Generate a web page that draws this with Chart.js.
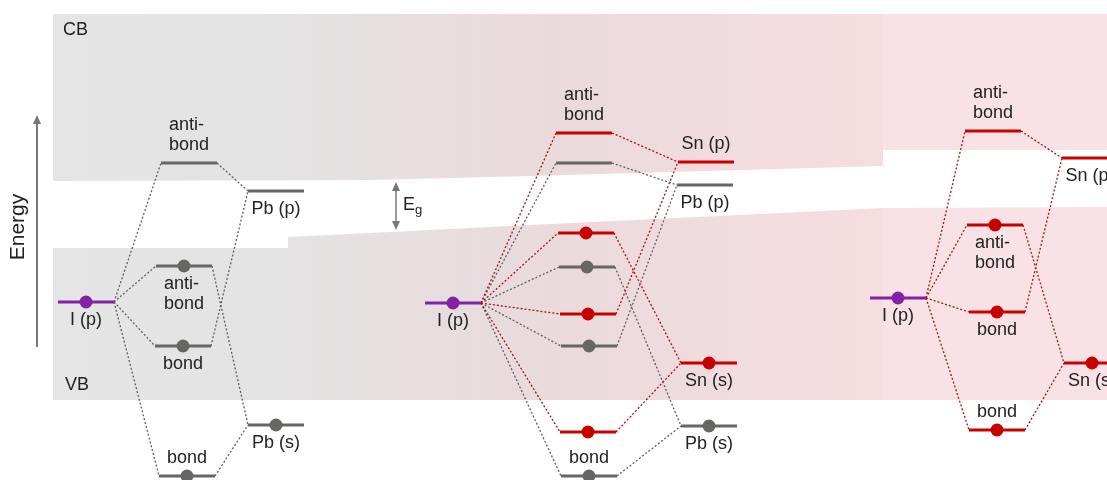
<!DOCTYPE html>
<html>
<head>
<meta charset="utf-8">
<script src="https://cdn.jsdelivr.net/npm/chart.js@4"></script>
<style>
  html, body { margin: 0; padding: 0; background: #fff; }
  #wrap { width: 1107px; height: 480px; position: relative; }
</style>
</head>
<body>
<div id="wrap"><canvas id="chart"></canvas></div>
<script>
// Energy levels (x = column, e = energy in arbitrary units, higher = up)
// 0-6: I/Pb, 7-19: mixed I/Pb/Sn, 20-26: I/Sn
const levelX = [86, 189, 276, 184, 183, 276, 187,
                453, 584, 584, 706, 705, 586, 587, 588, 589, 709, 588, 589, 709,
                898, 993, 1090, 995, 997, 1092, 997];
const levelE = [178, 317, 289, 214, 134, 55, 4,
                177, 347, 317, 318, 295, 247, 213, 166, 134, 117, 48, 4, 54,
                182, 349, 322, 255, 168, 117, 50];
const levelKind = ['I', 'Pb', 'Pb', 'Pb', 'Pb', 'Pb', 'Pb',
                   'I', 'Sn', 'Pb', 'Sn', 'Pb', 'Sn', 'Pb', 'Sn', 'Pb', 'Sn', 'Sn', 'Pb', 'Pb',
                   'I', 'Sn', 'Sn', 'Sn', 'Sn', 'Sn', 'Sn'];
const levelDot = [1, 0, 0, 1, 1, 1, 1,
                  1, 0, 0, 0, 0, 1, 1, 1, 1, 1, 1, 1, 1,
                  1, 0, 0, 1, 1, 1, 1];
const levelLabel = ['I (p)', 'anti-\nbond', 'Pb (p)', 'anti-\nbond', 'bond', 'Pb (s)', 'bond',
                    'I (p)', 'anti-\nbond', '', 'Sn (p)', 'Pb (p)', '', '', '', '', 'Sn (s)', '', 'bond', 'Pb (s)',
                    'I (p)', 'anti-\nbond', 'Sn (p)', 'anti-\nbond', 'bond', 'Sn (s)', 'bond'];
const labelSide = ['below', 'above', 'below', 'below', 'below', 'below', 'above',
                   'below', 'above', '', 'above', 'below', '', '', '', '', 'below', '', 'above', 'below',
                   'below', 'above', 'below', 'below', 'below', 'below', 'above'];

// orbital mixing: [left level, right level]
const links = [
  [0, 1], [0, 3], [0, 4], [0, 6], [1, 2], [4, 2], [3, 5], [6, 5],
  [7, 8], [7, 9], [7, 12], [7, 13], [7, 14], [7, 15], [7, 17], [7, 18],
  [8, 10], [9, 11], [12, 16], [13, 19], [14, 10], [15, 11], [17, 16], [18, 19],
  [20, 21], [20, 23], [20, 24], [20, 26], [21, 22], [23, 25], [24, 22], [26, 25]
];

// conduction / valence band outlines
const cbMainX = [53, 883, 883, 740, 530, 370, 53, 53];
const cbMainE = [466, 466, 314, 310, 304, 300, 299, 466];
const cbSnX = [883, 1107, 1107, 883, 883];
const cbSnE = [466, 466, 330, 330, 466];
const vbMainX = [53, 288, 288, 370, 530, 740, 883, 883, 53, 53];
const vbMainE = [232, 232, 243, 247, 255, 265, 272, 80, 80, 232];
const vbSnX = [883, 1107, 1107, 883, 883];
const vbSnE = [272, 273, 80, 80, 272];

// band gap marker and energy axis
const egX = 396, egTop = 298, egBottom = 250;
const axisX = 37, axisMin = 133, axisMax = 365;

const HW = 28;
const kindColor = { I: '#8222a6', Pb: '#666664', Sn: '#c70000' };
const linkColor = { Pb: '#5e5e5e', Sn: '#a31414' };
const FONT = '"Helvetica Neue", Helvetica, "Liberation Sans", Arial, sans-serif';

function pts(xs, es) { return xs.map((x, i) => ({ x: x, y: es[i] })); }

function bandGradient(c) {
  const chart = c.chart;
  if (!chart.chartArea) return '#e4e4e4';
  const xs = chart.scales.x;
  const g = chart.ctx.createLinearGradient(xs.getPixelForValue(53), 0, xs.getPixelForValue(883), 0);
  g.addColorStop(0, '#e5e5e5');
  g.addColorStop(0.25, '#e3e3e3');
  g.addColorStop(0.6, '#eadadc');
  g.addColorStop(1, '#f6dde0');
  return g;
}

const datasets = [];

[[cbMainX, cbMainE, bandGradient], [vbMainX, vbMainE, bandGradient],
 [cbSnX, cbSnE, '#f8e2e5'], [vbSnX, vbSnE, '#f8e2e5']].forEach(b => {
  datasets.push({
    data: pts(b[0], b[1]), showLine: true, fill: 'shape', backgroundColor: b[2],
    borderWidth: 0, pointRadius: 0, order: 10
  });
});

links.forEach(([a, b]) => {
  datasets.push({
    data: [{ x: levelX[a] + HW, y: levelE[a] }, { x: levelX[b] - HW, y: levelE[b] }],
    showLine: true, borderColor: linkColor[levelKind[b]], borderWidth: 1.3,
    borderDash: [2, 2], pointRadius: 0, order: 3
  });
});

levelX.forEach((x, i) => {
  datasets.push({
    data: [{ x: x - HW, y: levelE[i] }, { x: x + HW, y: levelE[i] }],
    showLine: true, borderColor: kindColor[levelKind[i]], borderWidth: 3,
    borderCapStyle: 'butt', pointRadius: 0, order: 2
  });
});

['I', 'Pb', 'Sn'].forEach(k => {
  const d = [];
  levelX.forEach((x, i) => {
    if (levelDot[i] && levelKind[i] === k) d.push({ x: x, y: levelE[i] });
  });
  datasets.push({
    data: d, showLine: false, pointRadius: 6.5, pointBackgroundColor: kindColor[k],
    pointBorderWidth: 0, order: 1
  });
});

function arrowHead(ctx, x, y, dir) {
  ctx.beginPath();
  ctx.moveTo(x, y);
  ctx.lineTo(x - 4, y + dir * 9);
  ctx.lineTo(x + 4, y + dir * 9);
  ctx.closePath();
  ctx.fill();
}

const textPlugin = {
  id: 'textPlugin',
  afterDatasetsDraw(chart) {
    const { ctx, scales: { x, y } } = chart;
    ctx.save();
    ctx.font = '18px ' + FONT;
    ctx.fillStyle = '#222';
    ctx.textBaseline = 'middle';
    ctx.textAlign = 'left';
    levelLabel.forEach((txt, i) => {
      if (!txt) return;
      const lines = txt.split('\n');
      const w = Math.max(...lines.map(l => ctx.measureText(l).width));
      const px = x.getPixelForValue(levelX[i]) - w / 2;
      const py = y.getPixelForValue(levelE[i]);
      lines.forEach((l, k) => {
        const dy = labelSide[i] === 'above' ? -18 - (lines.length - 1 - k) * 20 : 18 + k * 20;
        ctx.fillText(l, px, py + dy);
      });
    });
    ctx.fillText('CB', x.getPixelForValue(63), y.getPixelForValue(450));
    ctx.fillText('VB', x.getPixelForValue(65), y.getPixelForValue(95));

    // band gap arrow
    ctx.strokeStyle = '#777';
    ctx.fillStyle = '#777';
    ctx.lineWidth = 1.5;
    const gx = x.getPixelForValue(egX), gt = y.getPixelForValue(egTop), gb = y.getPixelForValue(egBottom);
    ctx.beginPath(); ctx.moveTo(gx, gt + 4); ctx.lineTo(gx, gb - 4); ctx.stroke();
    arrowHead(ctx, gx, gt, 1);
    arrowHead(ctx, gx, gb, -1);
    ctx.fillStyle = '#222';
    ctx.fillText('E', gx + 7, (gt + gb) / 2 - 1);
    ctx.font = '13px ' + FONT;
    ctx.fillText('g', gx + 19, (gt + gb) / 2 + 4);

    // energy axis
    ctx.strokeStyle = '#777';
    ctx.fillStyle = '#777';
    ctx.lineWidth = 2;
    const ax = x.getPixelForValue(axisX), a0 = y.getPixelForValue(axisMin), a1 = y.getPixelForValue(axisMax);
    ctx.beginPath(); ctx.moveTo(ax, a0); ctx.lineTo(ax, a1 + 6); ctx.stroke();
    arrowHead(ctx, ax, a1, 1);
    ctx.save();
    ctx.translate(x.getPixelForValue(18), y.getPixelForValue(253));
    ctx.rotate(-Math.PI / 2);
    ctx.font = '21px ' + FONT;
    ctx.fillStyle = '#222';
    ctx.textAlign = 'center';
    ctx.fillText('Energy', 0, 0);
    ctx.restore();
    ctx.restore();
  }
};

new Chart(document.getElementById('chart'), {
  type: 'scatter',
  data: { datasets: datasets },
  options: {
    responsive: true,
    maintainAspectRatio: false,
    animation: false,
    events: [],
    layout: { padding: 0, autoPadding: false },
    plugins: { legend: { display: false }, tooltip: { enabled: false } },
    scales: {
      x: { type: 'linear', min: 0, max: 1107, display: false },
      y: { type: 'linear', min: 0, max: 480, display: false }
    }
  },
  plugins: [textPlugin]
});
</script>
</body>
</html>
